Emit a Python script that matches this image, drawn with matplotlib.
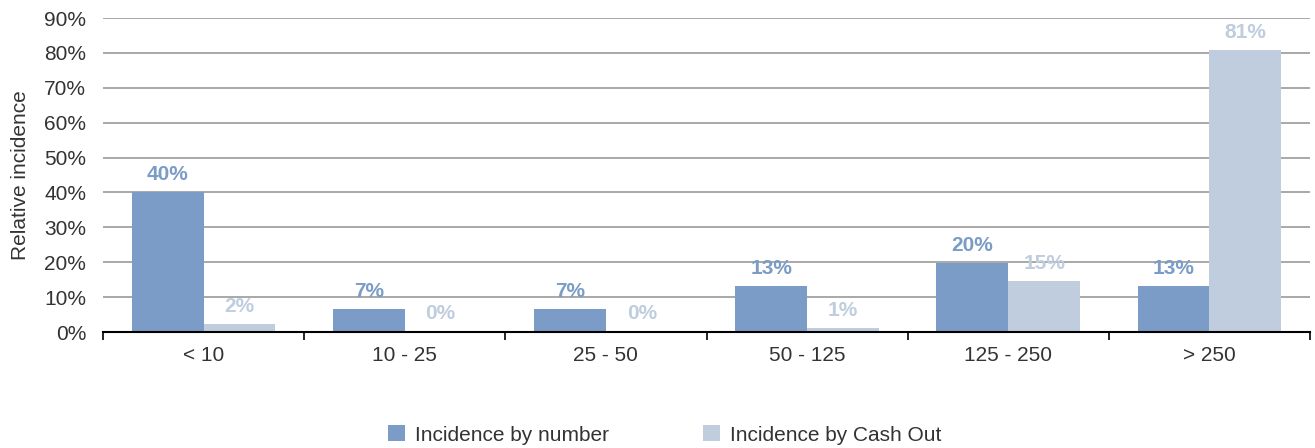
import matplotlib
matplotlib.use("Agg")
import matplotlib.pyplot as plt
import numpy as np
from matplotlib.ticker import FixedLocator

categories = ["< 10", "10 - 25", "25 - 50", "50 - 125", "125 - 250", "> 250"]
by_number = [40.1, 6.6, 6.6, 13.2, 19.8, 13.2]
by_cash = [2.3, 0.4, 0.4, 1.1, 14.6, 80.8]
labels_number = ["40%", "7%", "7%", "13%", "20%", "13%"]
labels_cash = ["2%", "0%", "0%", "1%", "15%", "81%"]
series_names = ["Incidence by number", "Incidence by Cash Out"]
yticks = list(range(0, 91, 10))

c_dark = "#7b9cc6"
c_light = "#bfcddf"
txt = "#333333"

plt.rcParams['font.family'] = ['Liberation Sans', 'DejaVu Sans']
fs = 15

fig = plt.figure(figsize=(13.15, 4.48), dpi=100)
ax = fig.add_axes([103/1315, 1-332/448, 1207/1315, (332-18)/448])

x = np.arange(len(categories))
w = 0.357
ax.bar(x - w/2, by_number, w, color=c_dark, label=series_names[0], zorder=3)
ax.bar(x + w/2, by_cash, w, color=c_light, label=series_names[1], zorder=3)

off = 5.0
for xi, v, l in zip(x, by_number, labels_number):
    ax.text(xi - w/2, v + off, l, ha='center', va='center', color=c_dark,
            fontsize=fs, fontweight='bold', zorder=4)
for xi, v, l in zip(x, by_cash, labels_cash):
    ax.text(xi + w/2, v + off, l, ha='center', va='center', color=c_light,
            fontsize=fs, fontweight='bold', zorder=4)

ax.set_xlim(-0.5, len(categories) - 0.5)
ax.set_ylim(0, 90)
ax.set_yticks(yticks)
ax.set_yticklabels([f"{t}%" for t in yticks], color=txt, fontsize=fs)
ax.yaxis.grid(True, color="#999999", linewidth=1.2, zorder=0)
ax.tick_params(axis='y', length=0, pad=12)

ax.set_xticks(x)
ax.set_xticklabels(categories, color=txt, fontsize=fs)
ax.xaxis.set_minor_locator(FixedLocator(np.arange(-0.5, len(categories), 1.0)))
ax.tick_params(axis='x', which='major', length=0, pad=10)
ax.tick_params(axis='x', which='minor', length=6, width=1.2, color='black', direction='out')

for s in ['top', 'right', 'left']:
    ax.spines[s].set_visible(False)
ax.spines['bottom'].set_color('black')
ax.spines['bottom'].set_linewidth(1.5)
ax.spines['bottom'].set_zorder(5)

ax.set_ylabel("Relative incidence", color=txt, fontsize=fs, labelpad=10)

fig.legend(loc='center', bbox_to_anchor=(665/1315, 1-435/448), ncol=2, frameon=False,
           fontsize=fs, handlelength=0.8, handleheight=0.8, columnspacing=4.5,
           handletextpad=0.5, labelcolor=txt)

fig.savefig("out.png", dpi=100)
